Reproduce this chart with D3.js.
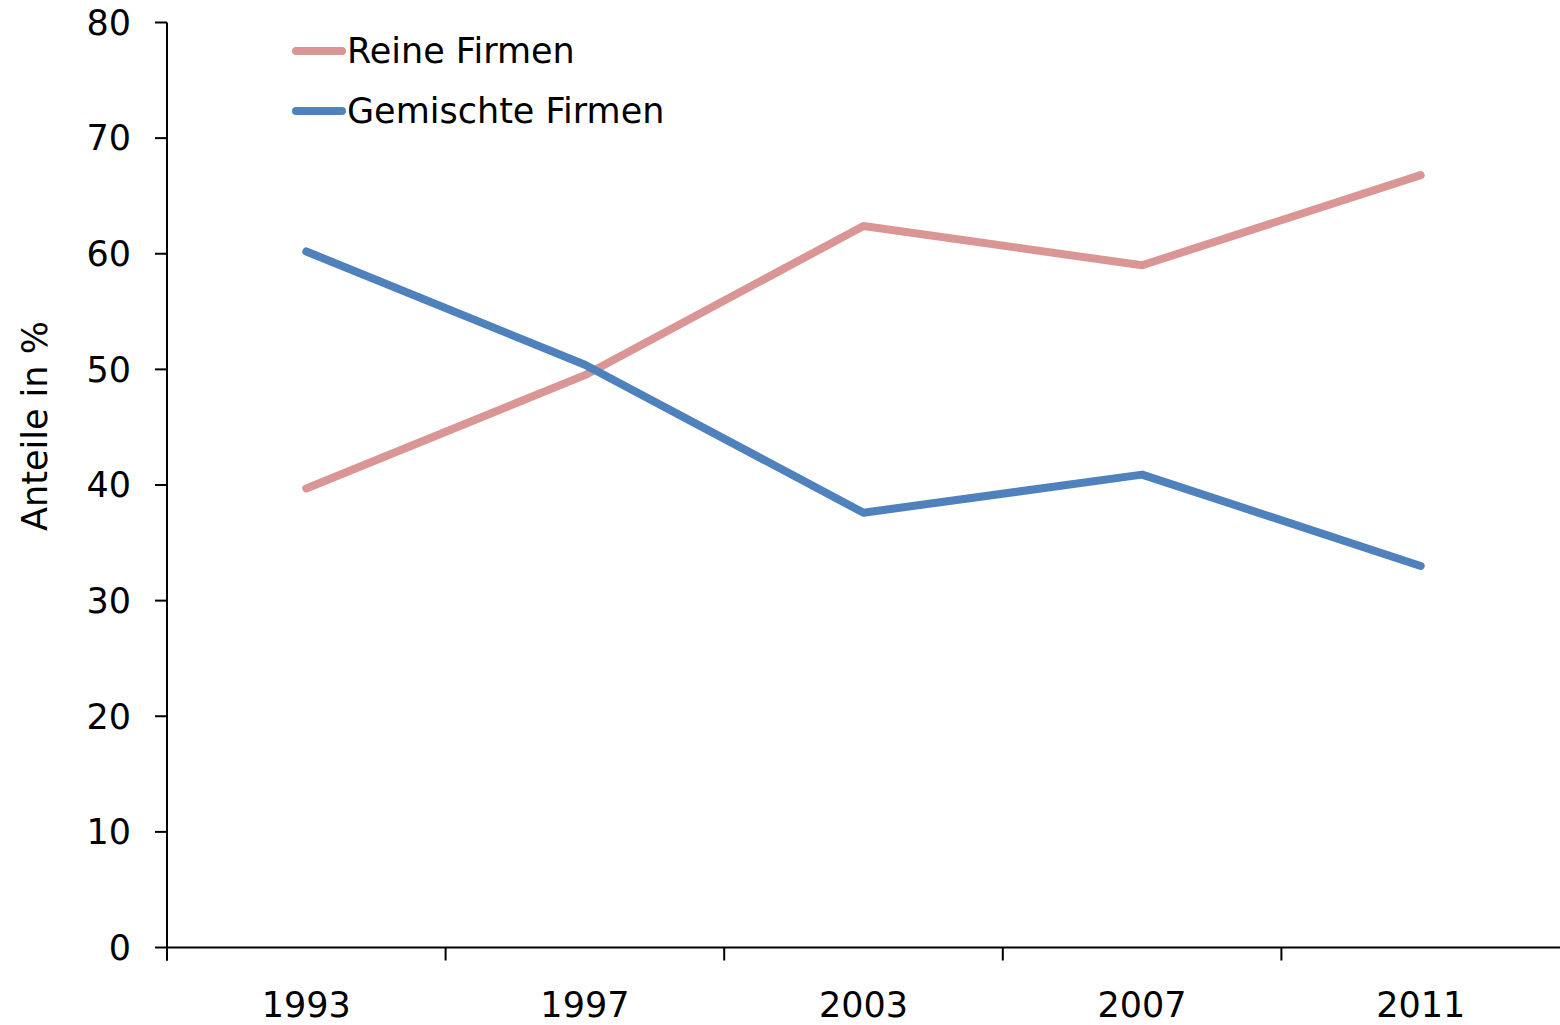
<!DOCTYPE html>
<html>
<head>
<meta charset="utf-8">
<script src="https://cdn.jsdelivr.net/npm/d3@7"></script>
<style>
  body { margin: 0; background: #fff; }
  text { font-family: "Century Gothic", "DejaVu Sans", sans-serif; fill: #000; }
</style>
</head>
<body>
<svg id="chart" width="1560" height="1025"></svg>
<script>
// Data
const years = ['1993', '1997', '2003', '2007', '2011'];
const reineFirmen = [39.7, 49.5, 62.4, 59.0, 66.8];
const gemischteFirmen = [60.2, 50.4, 37.6, 40.9, 33.0];
const yTicks = [0, 10, 20, 30, 40, 50, 60, 70, 80];

const series = [
    { name: 'Reine Firmen', values: reineFirmen, colour: '#d99694' },
    { name: 'Gemischte Firmen', values: gemischteFirmen, colour: '#4f81bd' }
];

const svg = d3.select('#chart');
const margin = { left: 167, right: 0, top: 22.5, bottom: 77.5 };
const width = 1560 - margin.left - margin.right;
const height = 1025 - margin.top - margin.bottom;

const g = svg.append('g')
    .attr('transform', `translate(${margin.left},${margin.top})`);

// Scales
const xScale = d3.scaleBand().domain(years).range([0, width]);
const yScale = d3.scaleLinear().domain([0, 80]).range([height, 0]);

// x-axis: ticks at band edges, labels at band centres
const xAxisG = g.append('g').attr('transform', `translate(0,${height})`);
xAxisG.append('line')
    .attr('x1', 0).attr('x2', width)
    .attr('stroke', '#000').attr('stroke-width', 2);
xAxisG.selectAll('line.tick')
    .data(years)
    .join('line')
    .attr('class', 'tick')
    .attr('x1', d => xScale(d)).attr('x2', d => xScale(d))
    .attr('y1', 0).attr('y2', 13)
    .attr('stroke', '#000').attr('stroke-width', 2);
xAxisG.selectAll('text')
    .data(years)
    .join('text')
    .attr('x', d => xScale(d) + xScale.bandwidth() / 2)
    .attr('y', 57)
    .attr('dy', '0.35em')
    .attr('text-anchor', 'middle')
    .attr('font-size', 35)
    .text(d => d);

// y-axis
const yAxisG = g.append('g');
yAxisG.append('line')
    .attr('y1', 0).attr('y2', height + 13)
    .attr('stroke', '#000').attr('stroke-width', 2);
yAxisG.selectAll('line.tick')
    .data(yTicks)
    .join('line')
    .attr('class', 'tick')
    .attr('x1', -12).attr('x2', 0)
    .attr('y1', d => yScale(d)).attr('y2', d => yScale(d))
    .attr('stroke', '#000').attr('stroke-width', 2);
yAxisG.selectAll('text')
    .data(yTicks)
    .join('text')
    .attr('x', -36)
    .attr('y', d => yScale(d))
    .attr('dy', '0.35em')
    .attr('text-anchor', 'end')
    .attr('font-size', 35)
    .text(d => d);

// y-axis title
svg.append('text')
    .attr('transform', 'translate(35,426) rotate(-90)')
    .attr('dy', '0.35em')
    .attr('text-anchor', 'middle')
    .attr('font-size', 35)
    .text('Anteile in %');

// Lines
const line = d3.line()
    .x((d, i) => xScale(years[i]) + xScale.bandwidth() / 2)
    .y(d => yScale(d));

g.selectAll('path.series')
    .data(series)
    .join('path')
    .attr('class', 'series')
    .attr('d', d => line(d.values))
    .attr('fill', 'none')
    .attr('stroke', d => d.colour)
    .attr('stroke-width', 8)
    .attr('stroke-linejoin', 'round')
    .attr('stroke-linecap', 'round');

// Legend
const legend = svg.append('g').attr('transform', 'translate(296,51)');
const legendItems = legend.selectAll('g')
    .data(series)
    .join('g')
    .attr('transform', (d, i) => `translate(0,${i * 60})`);
legendItems.append('line')
    .attr('x1', 0).attr('x2', 46)
    .attr('stroke', d => d.colour)
    .attr('stroke-width', 8)
    .attr('stroke-linecap', 'round');
legendItems.append('text')
    .attr('x', 51)
    .attr('dy', '0.35em')
    .attr('font-size', 35)
    .text(d => d.name);
</script>
</body>
</html>
